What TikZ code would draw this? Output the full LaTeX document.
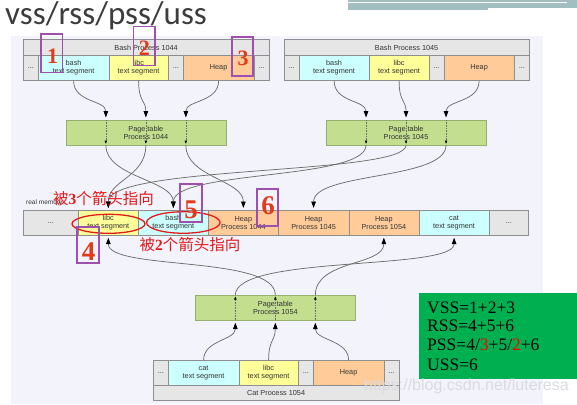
\documentclass[tikz,border=0pt]{standalone}
\usepackage{fontspec}
\setmainfont{Liberation Serif}
\newfontfamily\sanss{Liberation Sans}
\newfontfamily\titlef{Carlito}
\newfontfamily\cjk{Noto Sans CJK SC}
\usetikzlibrary{arrows.meta,calc,shapes.geometric}
\definecolor{bgl}{HTML}{F3F3FC}
\definecolor{barc}{HTML}{A2BEC0}
\definecolor{cellb}{HTML}{8E8E8E}
\definecolor{cgray}{HTML}{E6E6E6}
\definecolor{ccyan}{HTML}{CCFFFF}
\definecolor{cyel}{HTML}{FFFF99}
\definecolor{corg}{HTML}{FFCC99}
\definecolor{cgrn}{HTML}{C2DE8E}
\definecolor{cgrnb}{HTML}{93B070}
\definecolor{txt}{HTML}{333333}
\definecolor{ttl}{HTML}{3C3C3C}
\definecolor{lnc}{HTML}{6E6E6E}
\definecolor{redl}{HTML}{E41B1B}
\definecolor{redn}{HTML}{E43A1A}
\definecolor{purp}{HTML}{9E4FB0}
\definecolor{vgreen}{HTML}{00B050}
\definecolor{wmark}{HTML}{DADAE2}
\tikzset{
  cell/.style={draw=cellb, line width=0.7pt, anchor=north west, inner sep=0pt, align=center,
    text=txt, font=\sanss\fontsize{7.3}{8.4}\selectfont, minimum height=25pt},
  gcell/.style={cell, fill=cgray},
  ccell/.style={cell, fill=ccyan},
  ycell/.style={cell, fill=cyel},
  ocell/.style={cell, fill=corg},
  titlecell/.style={cell, fill=cgray, minimum height=15.7pt},
  ptab/.style={cell, fill=cgrn, draw=cgrnb, minimum width=160pt, minimum height=24.5pt},
  conn/.style={draw=lnc, line width=0.75pt, -{Triangle[length=6.5pt,width=4.6pt,color=black,fill=black]}},
  thru/.style={draw=lnc, line width=0.5pt, dash pattern=on 0.8pt off 0.8pt, -{Triangle[length=3pt,width=2.4pt,color=black,fill=black]}},
  pbox/.style={draw=purp, line width=1.5pt},
  bignum/.style={text=redn, inner sep=0pt, font=\rmfamily\bfseries\fontsize{22}{22}\selectfont},
  hugenum/.style={text=redn, inner sep=0pt, font=\rmfamily\bfseries\fontsize{27}{27}\selectfont},
  redlab/.style={text=redl, inner sep=0pt, font=\cjk\fontsize{15.5}{16}\selectfont},
  ellr/.style={draw=redl, line width=1.3pt, ellipse, inner sep=0pt},
  sumtxt/.style={anchor=base west, inner sep=0pt, text=black, font=\rmfamily\fontsize{17.5}{19}\selectfont}
}
\begin{document}
\begin{tikzpicture}[x=1pt,y=-1pt]
\useasboundingbox (0,0) rectangle (577,404);
\fill[white] (0,0) rectangle (577,404);
% background panel and header decoration
\fill[bgl] (11,36) rectangle (543,404);
\fill[barc] (348,0) rectangle (577,8);
\fill[barc] (348,0) rectangle (488,10.3);
\draw[white, line width=0.8pt] (348,2.5) -- (567,2.5);
\node[anchor=base west, inner sep=0pt, text=ttl, font=\titlef\fontsize{33}{33}\selectfont] (title) at (5,25) {vss/rss/pss/uss};

% Bash Process 1044
\node[titlecell, minimum width=245.5pt] (b1t) at (23,39.3) {Bash Process 1044};
\node[gcell, minimum width=15pt] (b1d1) at (23,55) {...};
\node[ccell, minimum width=70.5pt] (b1bash) at (38,55) {bash\\text segment};
\node[ycell, minimum width=59.5pt] (b1libc) at (108.5,55) {libc\\text segment};
\node[gcell, minimum width=15pt] (b1d2) at (168,55) {...};
\node[ocell, minimum width=70.5pt] (b1heap) at (183,55) {Heap};
\node[gcell, minimum width=15pt] (b1d3) at (253.5,55) {...};

% Bash Process 1045
\node[titlecell, minimum width=245.5pt] (b2t) at (283.5,39.3) {Bash Process 1045};
\node[gcell, minimum width=15pt] (b2d1) at (283.5,55) {...};
\node[ccell, minimum width=70.5pt] (b2bash) at (298.5,55) {bash\\text segment};
\node[ycell, minimum width=59.5pt] (b2libc) at (369,55) {libc\\text segment};
\node[gcell, minimum width=15pt] (b2d2) at (428.5,55) {...};
\node[ocell, minimum width=70.5pt] (b2heap) at (443.5,55) {Heap};
\node[gcell, minimum width=15pt] (b2d3) at (514,55) {...};

% Page tables
\node[ptab] (pt44) at (65.5,120) {Page table\\Process 1044};
\node[ptab] (pt45) at (325.7,120) {Page table\\Process 1045};
\node[ptab] (pt54) at (195,295) {Page table\\Process 1054};

% real memory
\node[anchor=west, inner sep=0pt, text=txt, font=\sanss\fontsize{6.5}{7}\selectfont] (rmlab) at (26,203) {real memory};
\node[gcell, minimum width=55pt] (rmd1) at (23,210) {...};
\node[ycell, minimum width=60pt] (rmlibc) at (78,210) {libc\\text segment};
\node[ccell, minimum width=70pt] (rmbash) at (138,210) {bash\\text segment};
\node[ocell, minimum width=70pt] (rmh44) at (208,210) {Heap\\Process 1044};
\node[ocell, minimum width=70.5pt] (rmh45) at (278,210) {Heap\\Process 1045};
\node[ocell, minimum width=70pt] (rmh54) at (348.5,210) {Heap\\Process 1054};
\node[ccell, minimum width=70.5pt] (rmcat) at (418.5,210) {cat\\text segment};
\node[gcell, minimum width=39pt] (rmd2) at (489,210) {...};

% Cat Process 1054
\node[gcell, minimum width=15pt] (cd1) at (153,360) {...};
\node[ccell, minimum width=70.5pt] (ccat) at (168,360) {cat\\text segment};
\node[ycell, minimum width=59.5pt] (clibc) at (238.5,360) {libc\\text segment};
\node[gcell, minimum width=15pt] (cd2) at (298,360) {...};
\node[ocell, minimum width=70.5pt] (cheap) at (313,360) {Heap};
\node[gcell, minimum width=15pt] (cd3) at (383.5,360) {...};
\node[titlecell, minimum width=245.5pt, minimum height=15pt] (ct) at (153,385) {Cat Process 1054};

% ports
\foreach \p/\n in {pt44/p44, pt45/p45, pt54/p54}{
  \coordinate (\n t1) at ($(\p.north)+(-40,0)$);
  \coordinate (\n t2) at ($(\p.north)$);
  \coordinate (\n t3) at ($(\p.north)+(40,0)$);
  \coordinate (\n b1) at ($(\p.south)+(-40,0)$);
  \coordinate (\n b2) at ($(\p.south)$);
  \coordinate (\n b3) at ($(\p.south)+(40,0)$);
}

% process -> page table
\draw[conn, shorten >=2.5pt] (b1bash.south) .. controls +(0,22) and +(0,-20) .. (p44t1);
\draw[conn, shorten >=2.5pt] (b1libc.south) .. controls +(0,22) and +(0,-20) .. (p44t2);
\draw[conn, shorten >=2.5pt] (b1heap.south) .. controls +(0,22) and +(0,-20) .. (p44t3);
\draw[conn, shorten >=2.5pt] (b2bash.south) .. controls +(0,22) and +(0,-20) .. (p45t1);
\draw[conn, shorten >=2.5pt] (b2libc.south) .. controls +(0,22) and +(0,-20) .. (p45t2);
\draw[conn, shorten >=2.5pt] (b2heap.south) .. controls +(0,22) and +(0,-20) .. (p45t3);
\draw[conn, shorten >=2.5pt] (ccat.north) .. controls +(0,-20) and +(0,20) .. (p54b1);
\draw[conn, shorten >=2.5pt] (clibc.north) .. controls +(0,-20) and +(0,20) .. (p54b2);
\draw[conn, shorten >=2.5pt] (cheap.north) .. controls +(0,-20) and +(0,20) .. (p54b3);

% through page tables
\foreach \i in {1,2,3}{
  \draw[thru, shorten >=1.5pt] (p44t\i) -- (p44b\i);
  \draw[thru, shorten >=1.5pt] (p45t\i) -- (p45b\i);
  \draw[thru, shorten >=1.5pt] (p54b\i) -- (p54t\i);
}

% page table -> real memory
\draw[conn, shorten >=2pt] (p44b1) .. controls +(0,32) and +(0,-30) .. (rmbash.north);
\draw[conn, shorten >=2pt] (p44b2) .. controls +(0,32) and +(0,-30) .. (rmlibc.north);
\draw[conn, shorten >=2pt] (p44b3) .. controls +(0,32) and +(0,-30) .. (rmh44.north);
\draw[conn, shorten >=2pt] (p45b1) .. controls +(0,35) and +(0,-40) .. (rmbash.north);
\draw[conn, shorten >=2pt] (p45b2) .. controls +(0,30) and +(0,-45) .. (rmlibc.north);
\draw[conn, shorten >=2pt] (p45b3) .. controls +(0,35) and +(0,-38) .. (rmh45.north);
\draw[conn, shorten >=2pt] (p54t1) .. controls +(0,-40) and +(0,35) .. (rmcat.south);
\draw[conn, shorten >=2pt] (p54t2) .. controls +(0,-40) and +(0,35) .. (rmlibc.south);
\draw[conn, shorten >=2pt] (p54t3) .. controls +(0,-35) and +(0,30) .. (rmh54.south);

% summary box
\node[fill=vgreen, anchor=north west, inner sep=0pt, minimum width=158pt, minimum height=86pt] (sumbox) at (419,293) {};
\node[sumtxt] (s1) at (427,313.3) {VSS=1+2+3};
\node[sumtxt] (s2) at (427,331.7) {RSS=4+5+6};
\node[sumtxt] (s3) at (427,350.7) {PSS=4/{\color{red}3}+5/{\color{red}2}+6};
\node[sumtxt] (s4) at (427,370.7) {USS=6};

% watermark
\node[anchor=west, inner sep=0pt, text=wmark, font=\sanss\fontsize{16}{16}\selectfont] (wm) at (364,386) {https://blog.csdn.net/luteresa};

% annotations
\node[ellr, minimum width=73pt, minimum height=19pt] (e1) at (108.5,223.8) {};
\node[ellr, minimum width=73.5pt, minimum height=21.5pt] (e2) at (183.3,222.5) {};
\draw[pbox] (41,34) rectangle (62.5,72.5);
\draw[pbox] (133.6,26.4) rectangle (155,65.4);
\draw[pbox] (232,37) rectangle (253,76);
\draw[pbox] (77,227) rectangle (99,263);
\draw[pbox] (180,184) rectangle (202,222);
\draw[pbox] (257,189) rectangle (278,226);
\node[bignum] (n1) at (52.5,56) {1};
\node[bignum] (n2) at (144.3,48) {2};
\node[bignum] (n3) at (243,58) {3};
\node[hugenum] (n4) at (88.5,252) {4};
\node[hugenum] (n5) at (191,210) {5};
\node[hugenum] (n6) at (268,206) {6};
\node[redlab] (lab3) at (103.5,199) {被{\rmfamily\bfseries 3}个箭头指向};
\node[redlab] (lab2) at (190,245) {被{\rmfamily\bfseries 2}个箭头指向};
\end{tikzpicture}
\end{document}
